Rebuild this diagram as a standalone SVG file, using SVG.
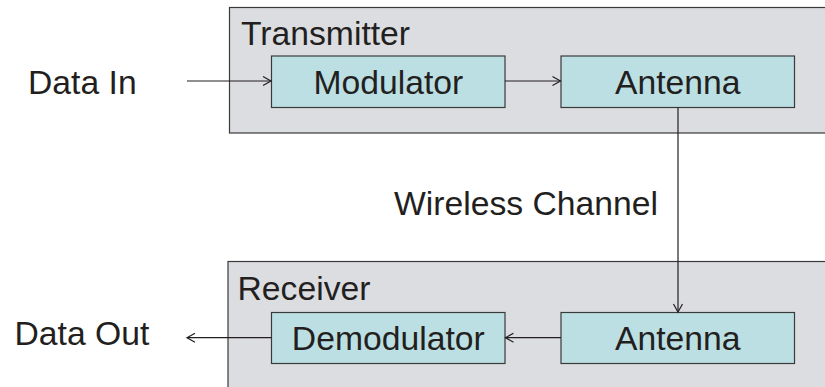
<svg xmlns="http://www.w3.org/2000/svg" width="825" height="387" viewBox="0 0 825 387">
<style>
text{font-family:"Liberation Sans",Arial,sans-serif;font-size:33.7px;fill:#231f20}
.grp{fill:#dcdde0;stroke:#3a3a3a;stroke-width:1.2}
.blk{fill:#bcdfe3;stroke:#3a3a3a;stroke-width:1.2}
.c{text-anchor:middle}
.ln{fill:none;stroke:#231f20;stroke-width:1.2;marker-end:url(#ah)}
</style>
<defs>
<marker id="ah" markerWidth="12" markerHeight="12" refX="9" refY="5" orient="auto" markerUnits="userSpaceOnUse" viewBox="0 0 12 10">
<path d="M1,0.5 L9,5 L1,9.5" fill="none" stroke="#231f20" stroke-width="1.2"/>
</marker>
</defs>
<g id="transmitter">
<rect class="grp" x="229.5" y="7.5" width="600" height="125.5"/>
<text x="241" y="45">Transmitter</text>
</g>
<g id="receiver">
<rect class="grp" x="228" y="261.5" width="600" height="130"/>
<text x="237.5" y="300">Receiver</text>
</g>
<g id="modulator">
<rect class="blk" x="271.5" y="56" width="233.5" height="51.5"/>
<text class="c" x="388.3" y="94">Modulator</text>
</g>
<g id="antenna-tx">
<rect class="blk" x="561" y="56" width="233.5" height="51.5"/>
<text class="c" x="677.7" y="94">Antenna</text>
</g>
<g id="demodulator">
<rect class="blk" x="271.5" y="312.5" width="233.5" height="51"/>
<text class="c" x="388.3" y="350">Demodulator</text>
</g>
<g id="antenna-rx">
<rect class="blk" x="561" y="312.5" width="233.5" height="51"/>
<text class="c" x="677.7" y="350">Antenna</text>
</g>
<g id="labels">
<text x="28" y="94.3">Data In</text>
<text x="394" y="215">Wireless Channel</text>
<text x="14.5" y="345">Data Out</text>
</g>
<g id="connectors">
<path class="ln" d="M187,81 L271,81"/>
<path class="ln" d="M505,81 L560.5,81"/>
<path class="ln" d="M678,107.5 L678,312"/>
<path class="ln" d="M561,337.7 L505.5,337.7"/>
<path class="ln" d="M271.5,337.7 L187,337.7"/>
</g>
</svg>
